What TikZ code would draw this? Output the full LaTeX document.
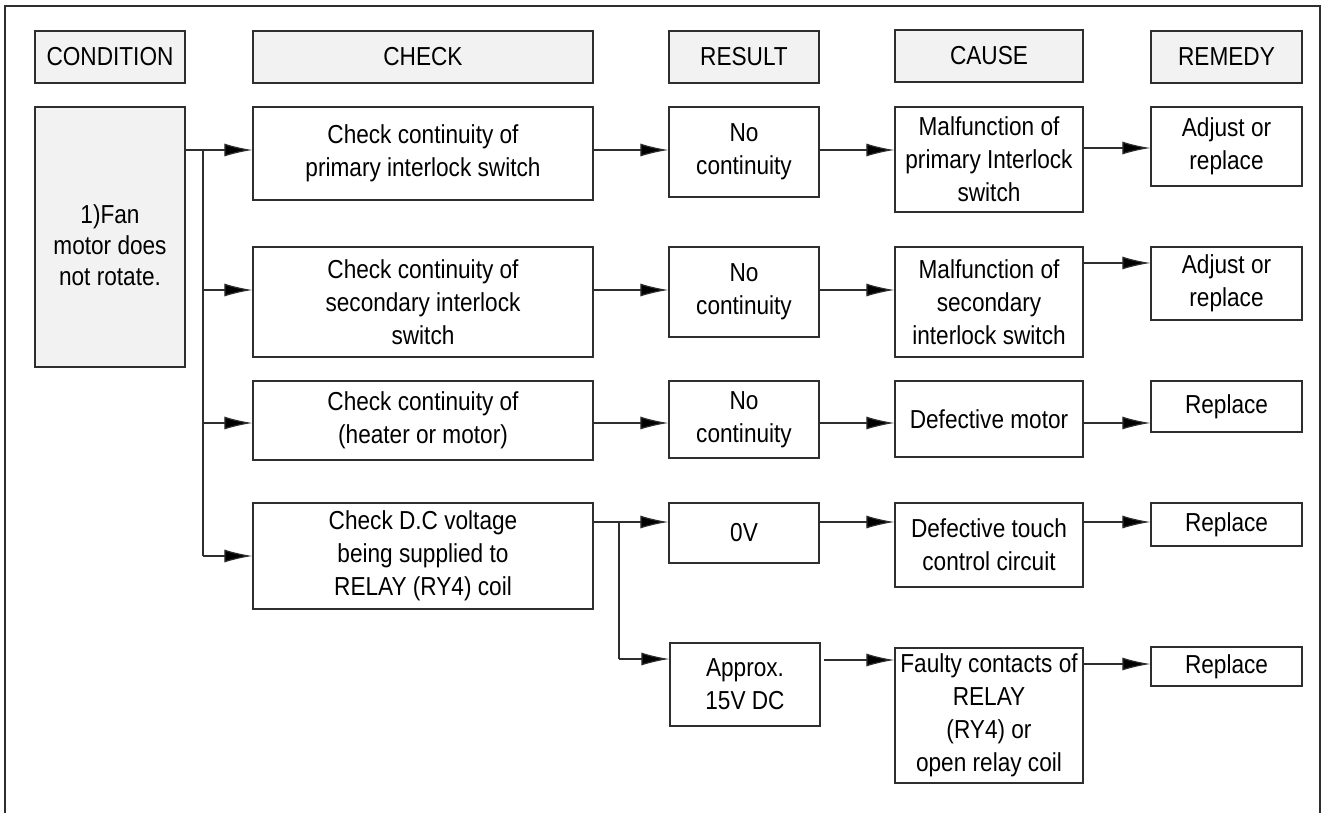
\documentclass[tikz,border=0pt]{standalone}
\usepackage{fontspec}
\setmainfont{Liberation Sans}[FakeStretch=0.87]
\usetikzlibrary{arrows.meta}
\definecolor{hdrfill}{HTML}{F2F2F2}
\definecolor{linegray}{HTML}{2E2E2E}
\tikzset{
  box/.style={draw=linegray, line width=1.3pt, align=center, inner sep=2pt,
    font=\fontsize{26}{33}\selectfont},
  hdr/.style={box, fill=hdrfill},
  arr/.style={draw=linegray, line width=1.2pt, -{Latex[length=28pt,width=13pt,fill=black]}},
  ln/.style={draw=linegray, line width=1.2pt},
}
\begin{document}
\begin{tikzpicture}[x=1pt,y=-1pt]
\useasboundingbox (0,0) rectangle (1326,812);
\fill[white] (0,0) rectangle (1326,812);
\draw[ln, line width=1.4pt] (5,6) rectangle (1320,830);

% headers
\node[hdr, minimum width=150pt, minimum height=52pt] (hcond) at (110,57) {CONDITION};
\node[hdr, minimum width=340pt, minimum height=52pt] (hcheck) at (423,57) {CHECK};
\node[hdr, minimum width=150pt, minimum height=52pt] (hres) at (744,57) {RESULT};
\node[hdr, minimum width=188pt, minimum height=52pt] (hcause) at (989,56) {CAUSE};
\node[hdr, minimum width=151pt, minimum height=52pt] (hrem) at (1226.5,57) {REMEDY};

% condition
\node[hdr, minimum width=150pt, minimum height=260pt] (cond) at (110,237) {\renewcommand{\arraystretch}{0.94}\begin{tabular}{@{}c@{}}\rule{0pt}{44pt}1)Fan\\motor does\\not rotate.\end{tabular}};

% row 1
\node[box, minimum width=340pt, minimum height=93pt] (c1) at (423,153.5) {Check continuity of\\primary interlock switch};
\node[box, minimum width=150pt, minimum height=90pt] (r1) at (744,152) {No\\continuity};
\node[box, minimum width=188pt, minimum height=105pt] (k1) at (989,159.5) {Malfunction of\\primary Interlock\\switch};
\node[box, minimum width=151pt, minimum height=79pt] (m1) at (1226.5,146.5) {Adjust or\\replace};

% row 2
\node[box, minimum width=340pt, minimum height=110pt] (c2) at (423,302) {Check continuity of\\secondary interlock\\switch};
\node[box, minimum width=150pt, minimum height=90pt] (r2) at (744,292) {No\\continuity};
\node[box, minimum width=188pt, minimum height=110pt] (k2) at (989,302) {Malfunction of\\secondary\\interlock switch};
\node[box, minimum width=151pt, minimum height=73pt] (m2) at (1226.5,283.5) {Adjust or\\replace};

% row 3
\node[box, minimum width=340pt, minimum height=79pt] (c3) at (423,420.5) {Check continuity of\\(heater or motor)};
\node[box, minimum width=150pt, minimum height=77pt] (r3) at (744,419.5) {No\\continuity};
\node[box, minimum width=188pt, minimum height=76pt] (k3) at (989,419) {Defective motor};
\node[box, minimum width=151pt, minimum height=51pt] (m3) at (1226.5,406.5) {Replace};

% row 4
\node[box, minimum width=340pt, minimum height=106pt] (c4) at (423,556) {Check D.C voltage\\being supplied to\\RELAY (RY4) coil};
\node[box, minimum width=150pt, minimum height=60pt] (r4a) at (744,533) {0V};
\node[box, minimum width=188pt, minimum height=84pt] (k4a) at (989,545) {Defective touch\\control circuit};
\node[box, minimum width=151pt, minimum height=43pt] (m4a) at (1226.5,524.5) {Replace};
\node[box, minimum width=150pt, minimum height=83pt] (r4b) at (745,684.5) {Approx.\\15V DC};
\node[box, minimum width=188pt, minimum height=135pt] (k4b) at (989,715.5) {Faulty contacts of\\RELAY\\(RY4) or\\open relay coil};
\node[box, minimum width=151pt, minimum height=39pt] (m4b) at (1226.5,666.5) {Replace};

% trunk
\coordinate (t1) at (203,150);
\coordinate (t2) at (203,290);
\coordinate (t3) at (203,423);
\coordinate (t4) at (203,556);
\draw[ln] (cond.east |- t1) -- (t1) -- (t4);
\draw[arr] (t1) -- (c1.west |- t1);
\draw[arr] (t2) -- (c2.west |- t2);
\draw[arr] (t3) -- (c3.west |- t3);
\draw[arr] (t4) -- (c4.west |- t4);

% row arrows
\coordinate (a1) at (0,150);
\draw[arr] (c1.east |- a1) -- (r1.west |- a1);
\draw[arr] (r1.east |- a1) -- (k1.west |- a1);
\coordinate (a1b) at (0,148);
\draw[arr] (k1.east |- a1b) -- (m1.west |- a1b);

\coordinate (a2) at (0,290);
\coordinate (a2b) at (0,263);
\draw[arr] (c2.east |- a2) -- (r2.west |- a2);
\draw[arr] (r2.east |- a2) -- (k2.west |- a2);
\draw[arr] (k2.east |- a2b) -- (m2.west |- a2b);

\coordinate (a3) at (0,423);
\draw[arr] (c3.east |- a3) -- (r3.west |- a3);
\draw[arr] (r3.east |- a3) -- (k3.west |- a3);
\draw[arr] (k3.east |- a3) -- (m3.west |- a3);

% row 4 branch
\coordinate (b1) at (619,522);
\coordinate (b2) at (619,659);
\draw[ln] (c4.east |- b1) -- (b1) -- (b2);
\draw[arr] (b1) -- (r4a.west |- b1);
\draw[arr] (b2) -- (r4b.west |- b2);
\draw[arr] (r4a.east |- b1) -- (k4a.west |- b1);
\draw[arr] (k4a.east |- b1) -- (m4a.west |- b1);
\coordinate (a4c) at (0,660);
\coordinate (a4d) at (0,664);
\draw[arr] ([xshift=3pt]r4b.east |- a4c) -- (k4b.west |- a4c);
\draw[arr] (k4b.east |- a4d) -- (m4b.west |- a4d);
\end{tikzpicture}
\end{document}
